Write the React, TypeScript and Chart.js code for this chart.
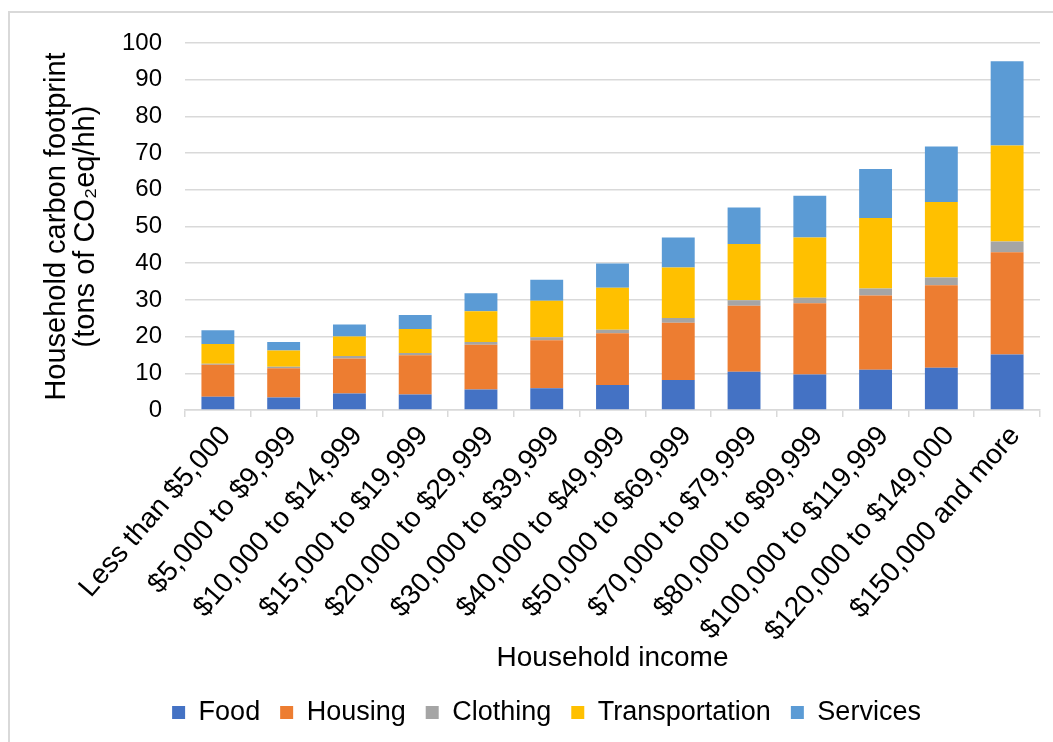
import React, { useEffect, useRef } from "react";
import { Chart, registerables } from "chart.js";

Chart.register(...registerables);

const categories = [
  "Less than $5,000",
  "$5,000 to $9,999",
  "$10,000 to $14,999",
  "$15,000 to $19,999",
  "$20,000 to $29,999",
  "$30,000 to $39,999",
  "$40,000 to $49,999",
  "$50,000 to $69,999",
  "$70,000 to $79,999",
  "$80,000 to $99,999",
  "$100,000 to $119,999",
  "$120,000 to $149,000",
  "$150,000 and more",
];

const food = [3.6, 3.4, 4.5, 4.2, 5.6, 5.9, 6.8, 8.2, 10.4, 9.7, 11.0, 11.5, 15.1];
const housing = [8.7, 8.0, 9.5, 10.7, 12.2, 13.1, 14.1, 15.6, 18.0, 19.4, 20.2, 22.5, 27.9];
const clothing = [0.3, 0.4, 0.7, 0.6, 0.7, 0.8, 1.0, 1.3, 1.5, 1.5, 1.9, 2.1, 2.9];
const transportation = [5.4, 4.4, 5.3, 6.6, 8.4, 10.0, 11.4, 13.7, 15.3, 16.4, 19.2, 20.6, 26.2];
const services = [3.7, 2.3, 3.3, 3.8, 4.9, 5.7, 6.6, 8.2, 10.0, 11.4, 13.4, 15.1, 22.9];

const seriesNames = ["Food", "Housing", "Clothing", "Transportation", "Services"];
const seriesColors = ["#4472C4", "#ED7D31", "#A5A5A5", "#FFC000", "#5B9BD5"];

const yTitle = ["Household carbon footprint", "(tons of CO₂eq/hh)"];
const xTitle = "Household income";

const FONT = "'Liberation Sans', Arial, sans-serif";

export default function App() {
  const ref = useRef<HTMLCanvasElement | null>(null);

  useEffect(() => {
    if (!ref.current) return;
    const values = [food, housing, clothing, transportation, services];
    const chart = new Chart(ref.current, {
      type: "bar",
      data: {
        labels: categories,
        datasets: seriesNames.map((name, i) => ({
          label: name,
          data: values[i],
          backgroundColor: seriesColors[i],
          borderWidth: 0,
          barPercentage: 0.5,
          categoryPercentage: 1.0,
        })),
      },
      options: {
        responsive: false,
        animation: false,
        devicePixelRatio: 1,
        layout: { padding: { top: 30, right: 13, bottom: 6, left: 43 } },
        plugins: {
          legend: {
            position: "bottom",
            labels: {
              boxWidth: 13,
              boxHeight: 13,
              padding: 20,
              color: "#000",
              font: { family: FONT, size: 27 },
            },
          },
          tooltip: { enabled: false },
        },
        scales: {
          x: {
            stacked: true,
            grid: {
              display: true,
              drawOnChartArea: false,
              drawTicks: true,
              tickLength: 7,
              offset: true,
              color: "#d9d9d9",
              lineWidth: 1.5,
            },
            border: { display: true, color: "#d9d9d9", width: 1.5 },
            ticks: {
              color: "#000",
              font: { family: FONT, size: 28 },
              minRotation: 49,
              maxRotation: 49,
              autoSkip: false,
              padding: 3,
              labelOffset: 8,
            },
            title: {
              display: true,
              text: xTitle,
              color: "#000",
              font: { family: FONT, size: 28, lineHeight: 1.2 },
              padding: { top: 4, bottom: 4 },
            },
            afterFit: (scale: any) => {
              scale.height = 269;
            },
          },
          y: {
            stacked: true,
            min: 0,
            max: 100,
            grid: {
              color: "#d9d9d9",
              lineWidth: 1.5,
              drawTicks: false,
            },
            border: { display: false },
            ticks: {
              stepSize: 10,
              color: "#000",
              padding: 23,
              font: { family: FONT, size: 24 },
            },
            title: {
              display: true,
              text: yTitle,
              color: "#000",
              font: { family: FONT, size: 29, lineHeight: 1.0 },
              padding: { top: -10.5, bottom: 0 },
            },
            afterFit: (scale: any) => {
              scale.width = 132;
              scale.paddingTop = 0;
              scale.paddingBottom = 0;
            },
          },
        },
      },
    });
    return () => chart.destroy();
  }, []);

  return (
    <div
      style={{
        position: "absolute",
        left: 8,
        top: 11,
        width: 1045,
        height: 731,
        boxSizing: "border-box",
        borderTop: "2px solid #d9d9d9",
        borderLeft: "2px solid #d9d9d9",
        background: "#fff",
        overflow: "hidden",
      }}
    >
      <canvas ref={ref} width={1043} height={729} style={{ display: "block", width: 1043, height: 729 }} />
    </div>
  );
}
